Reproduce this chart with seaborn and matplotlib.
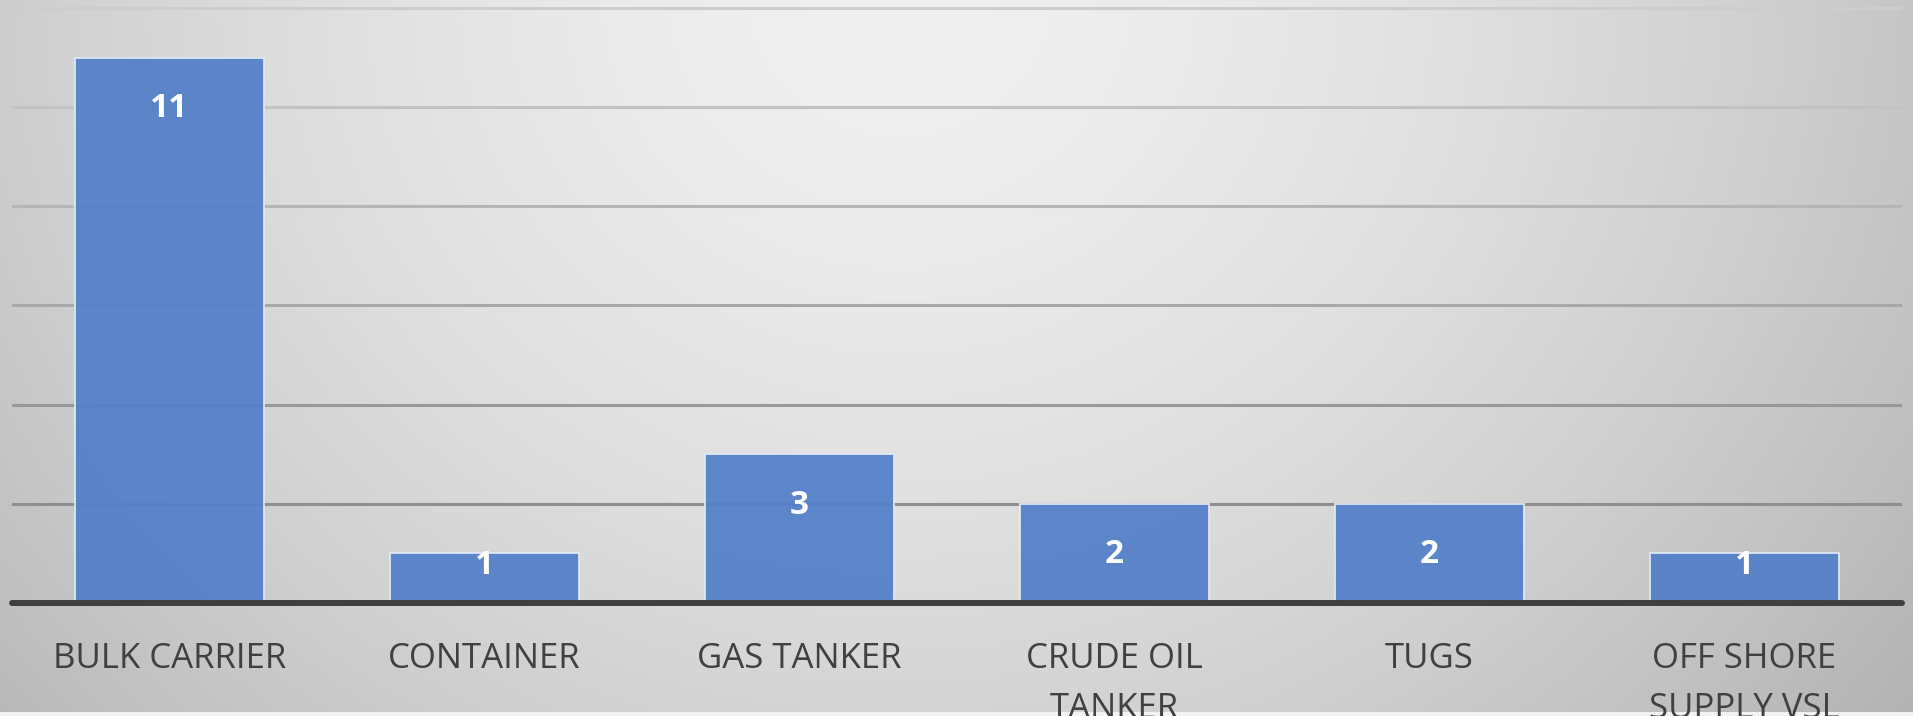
import numpy as np
import matplotlib
matplotlib.use("Agg")
import matplotlib.pyplot as plt
import seaborn as sns

categories = ["BULK CARRIER", "CONTAINER", "GAS TANKER", "CRUDE OIL\nTANKER", "TUGS", "OFF SHORE\nSUPPLY VSL"]
values = [11, 1, 3, 2, 2, 1]
grid_ticks = [2, 4, 6, 8, 10, 12]

sns.set_theme(style="white")
plt.rcParams['font.family'] = ['Open Sans', 'DejaVu Sans']

W, H = 1913, 716
fig = plt.figure(figsize=(W / 100, H / 100), dpi=100)

# background radial gradient
bg = fig.add_axes([0, 0, 1, 1], zorder=0)
yy, xx = np.mgrid[0:H, 0:W]
nx = (xx - 0.47 * W) / (0.62 * W)
ny = (yy - 0.0 * H) / (1.5 * H)
r = np.sqrt(nx ** 2 + ny ** 2)
val = 240 - 54 * np.clip(r, 0, 1.4) ** 1.6
val[H - 4:, :] = 242
img = np.dstack([val, val, val]) / 255.0
bg.imshow(img, aspect="auto", interpolation="bilinear")
bg.axis("off")

ax = fig.add_axes([12 / W, 113 / H, 1890 / W, 600 / H], zorder=1)
ax.patch.set_alpha(0)

sns.barplot(x=categories, y=values, color="#5580C9", saturation=1, width=0.6,
            edgecolor="#E3EAF6", linewidth=1.3, alpha=0.95, ax=ax, zorder=3)

ax.set_xlim(-0.5, len(categories) - 0.5)
ax.set_ylim(0, 12.1)

grid_colors = ["#8F8F8F", "#999999", "#A8A8A8", "#B5B5B5", "#C2C2C2", "#CDCDCD"]
for t, c in zip(grid_ticks, grid_colors):
    ax.axhline(t, color=c, linewidth=2.2, zorder=1)

ax.axhline(0, color="#3F3F3F", linewidth=4.3, zorder=4, clip_on=False)

for i, v in enumerate(values):
    ly = v - 1.03 if v - 1.03 > 0.76 else 0.76
    ax.text(i, ly, str(v), ha="center", va="center", color="white",
            fontsize=24, fontweight="bold", zorder=5)

ax.set_yticks([])
ax.tick_params(axis="x", length=0, pad=28, labelsize=25, labelcolor="#404040")
for lbl in ax.get_xticklabels():
    lbl.set_linespacing(1.62)
ax.set_xlabel("")
ax.set_ylabel("")
for s in ax.spines.values():
    s.set_visible(False)

fig.savefig("out.png", dpi=100)
